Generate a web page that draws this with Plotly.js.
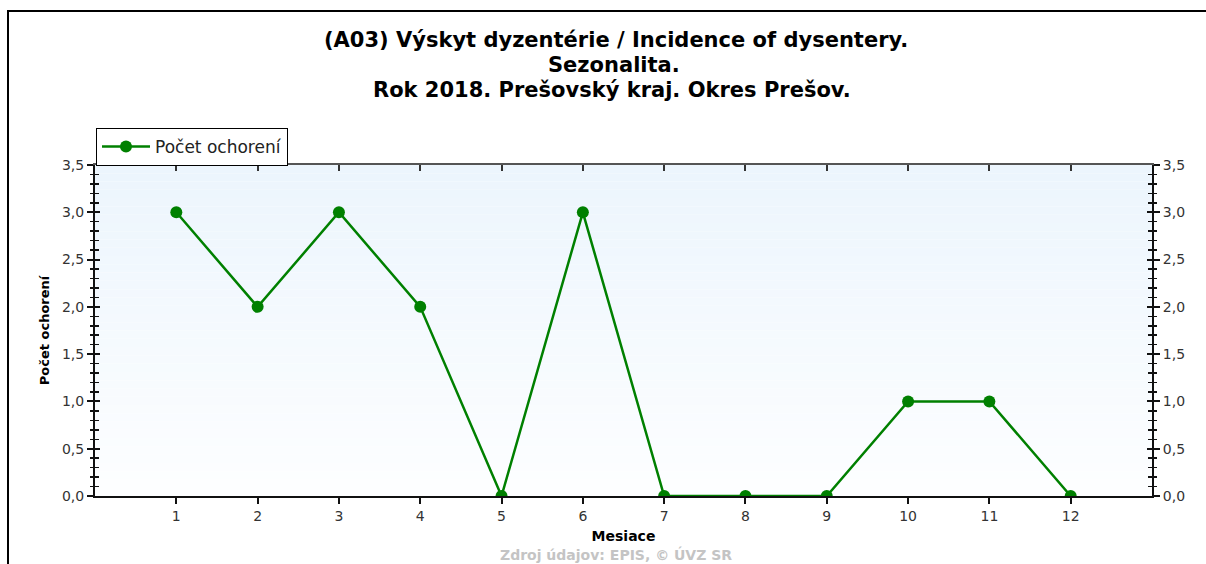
<!DOCTYPE html>
<html>
<head>
<meta charset="utf-8">
<script src="https://cdn.plot.ly/plotly-3.0.1.min.js"></script>
<style>
  html, body { margin: 0; padding: 0; background: #fff; overflow: hidden; }
  #wrap { position: relative; width: 1206px; height: 564px; }
  #chart { width: 1206px; height: 564px; }
  #frame { position: absolute; left: 7px; top: 10px; width: 1300px; height: 700px;
           border-top: 2px solid #000; border-left: 2px solid #000; pointer-events: none; }
</style>
</head>
<body>
<div id="wrap">
  <div id="chart"></div>
  <div id="frame"></div>
</div>
<script>
// ---- data ----
const months = [1, 2, 3, 4, 5, 6, 7, 8, 9, 10, 11, 12];
const cases = [3, 2, 3, 2, 0, 3, 0, 0, 0, 1, 1, 0];
const seriesName = 'Počet ochorení';
const titleLines = [
  '(A03) Výskyt dyzentérie / Incidence of dysentery.',
  'Sezonalita.',
  'Rok 2018. Prešovský kraj. Okres Prešov.'
];
const xTitle = 'Mesiace';
const yTitle = 'Počet ochorení';
const sourceText = 'Zdroj údajov: EPIS, © ÚVZ SR';
const yTicks = [0, 0.5, 1, 1.5, 2, 2.5, 3, 3.5];

// ---- layout helpers (pixel -> paper) ----
const PL = 95, PR = 1152, PT = 165, PB = 496;
const px = x => (x - PL) / (PR - PL);
const py = y => (PB - y) / (PB - PT);

const FONT = '"DejaVu Sans", Verdana, sans-serif';
const GREEN = '#008000';

const traces = [{
  x: months, y: cases, name: seriesName, type: 'scatter', mode: 'lines+markers',
  line: { color: GREEN, width: 2.5 },
  marker: { color: GREEN, size: 12, symbol: 'circle' },
  xaxis: 'x', yaxis: 'y'
}];

// gradient background bands
const shapes = [];
const nb = 40;
const cTop = [236, 245, 253], cBot = [253, 254, 255];
for (let i = 0; i < nb; i++) {
  const t = i / (nb - 1);
  const c = cTop.map((v, k) => Math.round(v + (cBot[k] - v) * t));
  shapes.push({
    type: 'rect', xref: 'paper', yref: 'paper', layer: 'below',
    x0: 0, x1: 1, y1: 1 - i / nb, y0: 1 - (i + 1) / nb,
    fillcolor: `rgb(${c[0]},${c[1]},${c[2]})`, line: { width: 0 }
  });
}

const yCommon = {
  range: [0, 3.5], tickvals: yTicks, tickformat: '.1f',
  showgrid: false, zeroline: false, fixedrange: true
};

const layout = {
  width: 1206, height: 564,
  margin: { l: PL, r: 1206 - PR, t: PT, b: 564 - PB, pad: 0 },
  paper_bgcolor: 'rgba(0,0,0,0)',
  plot_bgcolor: 'rgba(0,0,0,0)',
  separators: ', ',
  font: { family: FONT, size: 14, color: '#333' },
  showlegend: true,
  legend: {
    x: px(96), y: py(128), xanchor: 'left', yanchor: 'top',
    bgcolor: '#fff', bordercolor: '#000', borderwidth: 1,
    font: { family: FONT, size: 17, color: '#222' },
    itemwidth: 48, tracegroupgap: 0
  },
  xaxis: {
    range: [0, 13], tickvals: months, ticktext: months.map(String),
    showgrid: false, zeroline: false, showline: true, linecolor: '#111', linewidth: 2,
    ticks: 'outside', ticklen: 6, tickwidth: 2, tickcolor: '#111',
    tickfont: { family: FONT, size: 14, color: '#333' },
    title: { text: '<b>' + xTitle + '</b>', font: { family: FONT, size: 14, color: '#000' }, standoff: 8 }
  },
  xaxis2: {
    overlaying: 'x', side: 'top', range: [0, 13], tickvals: months,
    showticklabels: false, showgrid: false, zeroline: false,
    showline: true, linecolor: '#555', linewidth: 2,
    ticks: 'inside', ticklen: 6, tickwidth: 2, tickcolor: '#333'
  },
  yaxis: Object.assign({}, yCommon, {
    side: 'left', showline: true, linecolor: '#111', linewidth: 2,
    ticks: 'outside', ticklen: 6, tickwidth: 2, tickcolor: '#111',
    minor: { dtick: 0.1, ticks: 'outside', ticklen: 3, tickwidth: 1.5, tickcolor: '#111' },
    tickfont: { family: FONT, size: 14, color: '#333' },
    title: { text: '<b>' + yTitle + '</b>', font: { family: FONT, size: 13, color: '#000' }, standoff: 9 }
  }),
  yaxis3: Object.assign({}, yCommon, {
    overlaying: 'y', side: 'left', showline: false, showticklabels: false,
    ticks: 'inside', ticklen: 5, tickwidth: 2, tickcolor: '#111',
    minor: { dtick: 0.1, ticks: 'inside', ticklen: 4, tickwidth: 1.5, tickcolor: '#111' }
  }),
  yaxis2: Object.assign({}, yCommon, {
    overlaying: 'y', side: 'right', showline: true, linecolor: '#111', linewidth: 2,
    ticks: 'outside', ticklen: 6, tickwidth: 2, tickcolor: '#111',
    minor: { dtick: 0.1, ticks: 'outside', ticklen: 3, tickwidth: 1.5, tickcolor: '#111' },
    tickfont: { family: FONT, size: 14, color: '#333' }
  }),
  yaxis4: Object.assign({}, yCommon, {
    overlaying: 'y', side: 'right', showline: false, showticklabels: false,
    ticks: 'inside', ticklen: 5, tickwidth: 2, tickcolor: '#111',
    minor: { dtick: 0.1, ticks: 'inside', ticklen: 4, tickwidth: 1.5, tickcolor: '#111' }
  }),
  shapes: shapes,
  annotations: [
    { text: '<b>' + titleLines[0] + '</b>', x: px(616), y: py(40) },
    { text: '<b>' + titleLines[1] + '</b>', x: px(614), y: py(65) },
    { text: '<b>' + titleLines[2] + '</b>', x: px(612), y: py(90) }
  ].map(a => Object.assign(a, {
    xref: 'paper', yref: 'paper', xanchor: 'center', yanchor: 'middle', showarrow: false,
    borderpad: 0, font: { family: FONT, size: 21, color: '#000' }
  })).concat([{
    text: '<b>' + sourceText + '</b>', xref: 'paper', yref: 'paper',
    x: px(616), y: py(554), xanchor: 'center', yanchor: 'middle', showarrow: false,
    borderpad: 0, font: { family: FONT, size: 14, color: '#c4c4c4' }
  }])
};

// empty traces to activate the overlay axes
traces.push({ x: [], y: [], xaxis: 'x2', yaxis: 'y3', showlegend: false, hoverinfo: 'skip', type: 'scatter' });
traces.push({ x: [], y: [], xaxis: 'x', yaxis: 'y2', showlegend: false, hoverinfo: 'skip', type: 'scatter' });
traces.push({ x: [], y: [], xaxis: 'x', yaxis: 'y4', showlegend: false, hoverinfo: 'skip', type: 'scatter' });

Plotly.newPlot('chart', traces, layout, { displayModeBar: false, staticPlot: true });
</script>
</body>
</html>
